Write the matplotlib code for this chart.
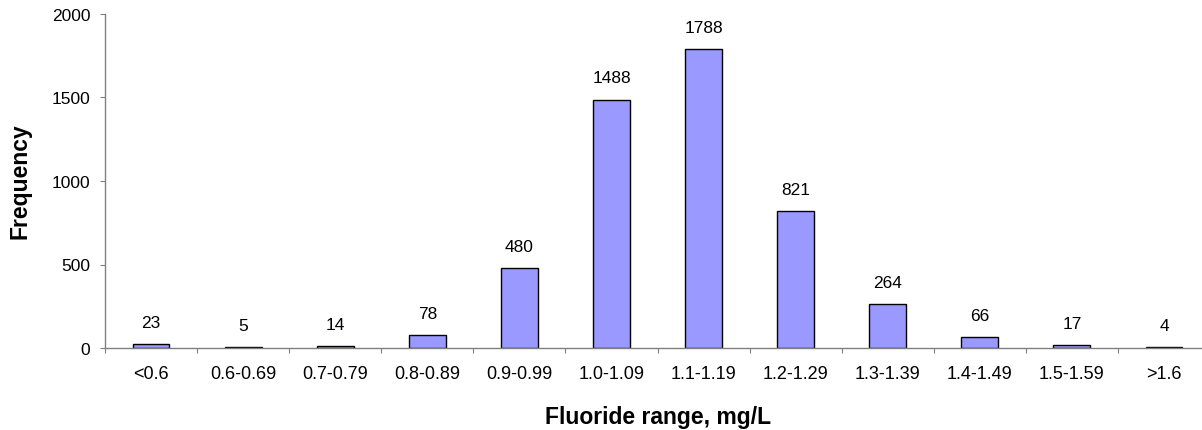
import matplotlib
matplotlib.use("Agg")
import matplotlib.pyplot as plt
import numpy as np

categories = ["<0.6", "0.6-0.69", "0.7-0.79", "0.8-0.89", "0.9-0.99", "1.0-1.09",
              "1.1-1.19", "1.2-1.29", "1.3-1.39", "1.4-1.49", "1.5-1.59", ">1.6"]
frequency = [23, 5, 14, 78, 480, 1488, 1788, 821, 264, 66, 17, 4]
y_ticks = [0, 500, 1000, 1500, 2000]

plt.rcParams['font.family'] = ['Liberation Sans', 'DejaVu Sans']

W, H = 1202, 431
fig = plt.figure(figsize=(W / 100, H / 100), dpi=100)
left, right, top, bottom = 105, 1210, 15, 349
ax = fig.add_axes([left / W, 1 - bottom / H, (right - left) / W, (bottom - top) / H])

x = np.arange(len(categories))
bars = ax.bar(x, frequency, width=0.4, color="#9999FF", edgecolor="black", linewidth=1)
for xi, v in zip(x, frequency):
    ax.annotate(str(v), (xi, v), xytext=(0, 15.5), textcoords="offset points",
                ha="center", va="center", fontsize=12.5)

ax.set_xlim(-0.5, len(categories) - 0.5)
ax.set_ylim(0, 2000)
ax.set_yticks(y_ticks)
ax.set_yticklabels([str(t) for t in y_ticks], fontsize=12.5)
ax.set_xticks(np.arange(len(categories) + 1) - 0.5)
ax.set_xticklabels([])
ax.set_xticks(x, minor=True)
ax.set_xticklabels(categories, minor=True, fontsize=13)
ax.tick_params(axis="x", which="minor", length=0, pad=12)
ax.tick_params(axis="x", which="major", length=3.6, direction="out", color="#808080")
ax.tick_params(axis="y", length=3.6, direction="out", color="#808080", pad=7)

for s in ["top", "right"]:
    ax.spines[s].set_visible(False)
for s in ["left", "bottom"]:
    ax.spines[s].set_color("#808080")
    ax.spines[s].set_linewidth(1)

fig.text(20 / W, 1 - 181 / H, "Frequency", rotation=90, ha="center", va="center",
         fontsize=16.5, fontweight="bold")
fig.text(658 / W, 1 - 418 / H, "Fluoride range, mg/L", ha="center", va="center",
         fontsize=16.5, fontweight="bold")

fig.savefig("out.png", dpi=100)
